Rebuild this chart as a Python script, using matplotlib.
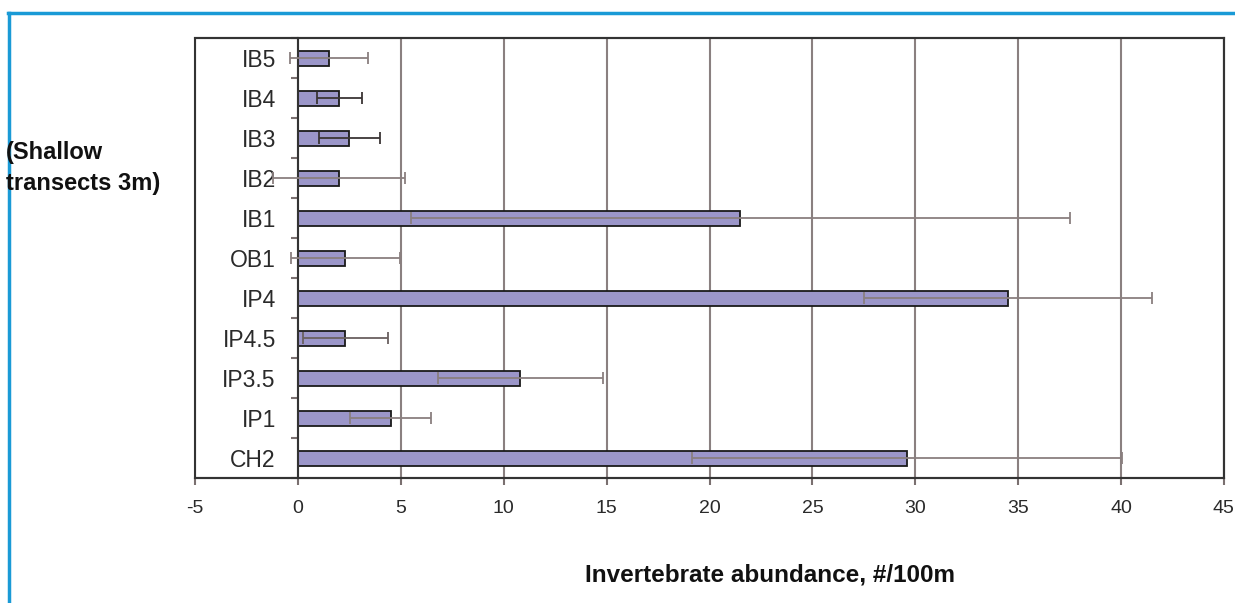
import matplotlib.pyplot as plt
import numpy as np
from matplotlib.lines import Line2D
from matplotlib.patches import Rectangle

plt.rcParams['font.family'] = ['Liberation Sans', 'DejaVu Sans']
plt.rcParams['axes.unicode_minus'] = False

# transects, top to bottom as in the chart
sites = ['IB5', 'IB4', 'IB3', 'IB2', 'IB1', 'OB1', 'IP4', 'IP4.5', 'IP3.5', 'IP1', 'CH2']
abundance = [1.5, 2.0, 2.5, 2.0, 21.5, 2.3, 34.5, 2.3, 10.8, 4.5, 29.6]
err = [1.9, 1.1, 1.5, 3.2, 16.0, 2.65, 7.0, 2.05, 4.0, 1.95, 10.45]
err_colors = ['#8a7f7f', '#3a3535', '#3a3535', '#8a7f7f', '#8a7f7f', '#8a7f7f',
              '#8a7f7f', '#6a6060', '#8a7f7f', '#8a7f7f', '#8a7f7f']

fig = plt.figure(figsize=(12.35, 6.03), dpi=100)
ax = fig.add_axes([0.158, 0.207, 0.833, 0.7297])

y = np.arange(len(sites))
ax.barh(y, abundance, height=0.38, color='#9b96c9', edgecolor='#1a1a1a', lw=1.3, zorder=2)
for i in range(len(sites)):
    ax.errorbar(abundance[i], y[i], xerr=err[i], fmt='none', ecolor=err_colors[i],
                elinewidth=1.3, capsize=4, capthick=1.3, zorder=3)

ax.set_xlim(-5, 45)
ax.set_ylim(len(sites) - 0.5, -0.5)
ax.set_xticks(np.arange(-5, 50, 5))
ax.set_yticks(y)
ax.set_yticklabels(sites)
ax.set_yticks(np.arange(-0.5, len(sites), 1), minor=True)

# category axis crosses at x = 0
ax.spines['left'].set_position(('data', 0))
ax.spines['left'].set_color('#333333')
ax.spines['left'].set_linewidth(1.5)
for s in ['top', 'right', 'bottom']:
    ax.spines[s].set_color('#333333')
    ax.spines[s].set_linewidth(1.5)
ax.add_patch(Rectangle((0, 0), 1, 1, transform=ax.transAxes, fill=False,
                       ec='#333333', lw=1.5, clip_on=False, zorder=4))

ax.xaxis.grid(True, color='#8a8080', lw=1.5)
ax.set_axisbelow(True)

ax.tick_params(axis='y', which='major', length=0, pad=16, labelsize=16.5, labelcolor='#2a2a2a')
ax.tick_params(axis='y', which='minor', length=5, width=1.5, color='#7a7070')
ax.tick_params(axis='x', length=5, width=1.5, color='#7a7070', pad=11,
               labelsize=14, labelcolor='#2a2a2a')

fig.text(770 / 1235, 1 - 575 / 603, 'Invertebrate abundance, #/100m',
         ha='center', va='center', fontsize=17.5, fontweight='bold', color='#111111')
fig.text(0.005, 1 - 168 / 603, '(Shallow\ntransects 3m)', ha='left', va='center',
         fontsize=17, fontweight='bold', color='#111111', linespacing=1.4)

# blue frame
fig.add_artist(Line2D([8 / 1235, 1], [1 - 13 / 603] * 2, color='#1a9ad6', lw=2.5,
                      transform=fig.transFigure))
fig.add_artist(Line2D([9 / 1235] * 2, [0, 1 - 13 / 603], color='#1a9ad6', lw=2.5,
                      transform=fig.transFigure))

fig.savefig('out.png', dpi=100)
